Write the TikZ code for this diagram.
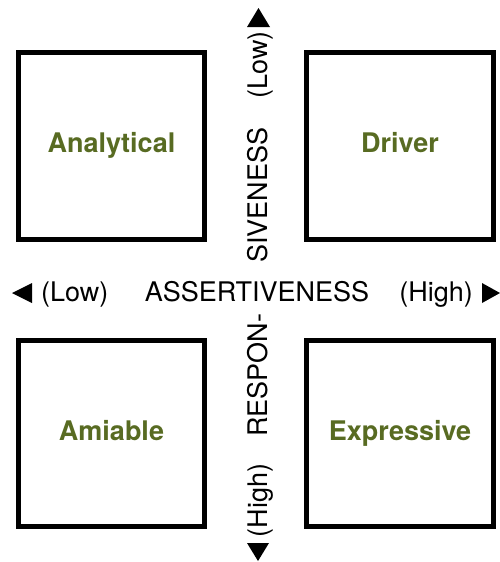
\documentclass[tikz,border=0pt]{standalone}
\usepackage{fontspec}
\setmainfont{TeX Gyre Heros}
\definecolor{olivelabel}{RGB}{88,107,34}
\begin{document}
\begin{tikzpicture}[x=1pt,y=1pt,
  quad/.style={draw=black,line width=5pt,fill=white},
  typelabel/.style={font=\fontsize{27}{31}\selectfont\bfseries,text=olivelabel,inner sep=0pt,anchor=base},
  axislabel/.style={font=\fontsize{27}{31}\selectfont,inner sep=0pt},
  vlabel/.style={axislabel,rotate=90,anchor=base west},
  tip/.style={fill=black,draw=none}]
\useasboundingbox (0,0) rectangle (500,-562);
% boxes
\draw[quad] (18.5,-52.5) rectangle (204.5,-239.5);
\draw[quad] (306.5,-52.5) rectangle (493.5,-239.5);
\draw[quad] (18.5,-340.5) rectangle (204.5,-526.5);
\draw[quad] (306.5,-340.5) rectangle (493.5,-526.5);
% type labels
\node[typelabel] (analytical) at (111.5,-152) {Analytical};
\node[typelabel] (driver) at (400,-152) {Driver};
\node[typelabel] (amiable) at (111.5,-440) {Amiable};
\node[typelabel] (expressive) at (400,-440) {Expressive};
% horizontal axis
\node[axislabel,anchor=base west] (hlow) at (41,-301) {(Low)};
\node[axislabel,anchor=base] (assert) at (257,-301) {ASSERTIVENESS};
\node[axislabel,anchor=base east] (hhigh) at (473,-301) {(High)};
\fill[tip] (32,-283) -- (32,-303) -- (12,-293) -- cycle;
\fill[tip] (482,-283) -- (482,-303) -- (500,-293) -- cycle;
% vertical axis
\node[vlabel] (vlow) at (267,-98.5) {(Low)};
\node[vlabel] (siv) at (267,-263) {SIVENESS};
\node[vlabel] (resp) at (267,-437) {RESPON-};
\node[vlabel] (vhigh) at (267,-537.5) {(High)};
\fill[tip] (247,-27) -- (270,-27) -- (258.5,-8) -- cycle;
\fill[tip] (247,-543) -- (269,-543) -- (258,-561) -- cycle;
\end{tikzpicture}
\end{document}
